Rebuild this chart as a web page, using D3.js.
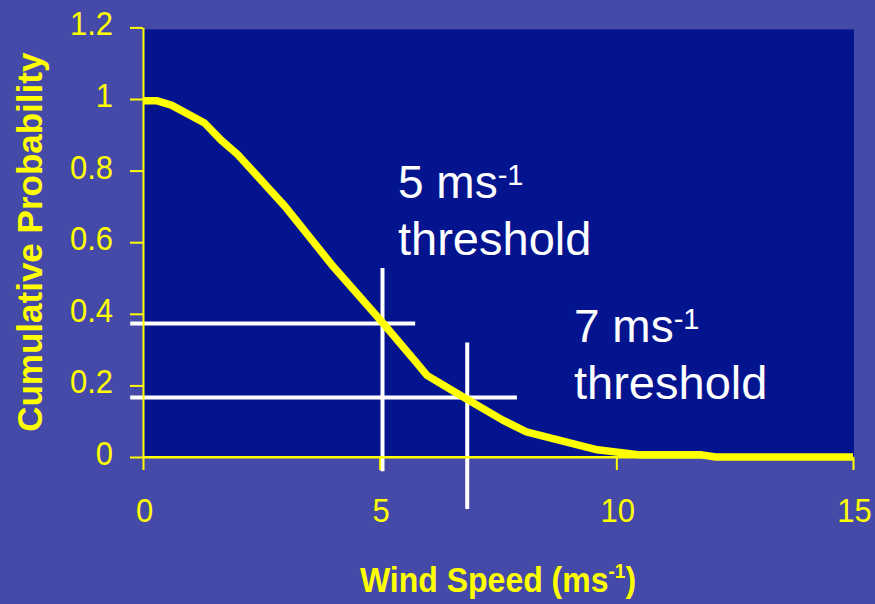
<!DOCTYPE html>
<html><head><meta charset="utf-8">
<script src="https://cdn.jsdelivr.net/npm/d3@7"></script>
<style>html,body{margin:0;padding:0;background:#4549A8;}svg{display:block;}</style>
</head><body>
<svg id="c" width="875" height="604"></svg>
<script>
// ---- data ----
const windSpeed = [0, 0.3, 0.6, 1.3, 1.65, 2.0, 3.0, 4.0, 5.05, 5.75, 6.0, 6.8, 7.6, 8.1, 9.6, 10.5, 11.8, 12.1, 15];
const cumProb   = [0.995, 0.995, 0.983, 0.933, 0.885, 0.845, 0.70, 0.535, 0.377, 0.268, 0.228, 0.165, 0.103, 0.07, 0.02, 0.006, 0.006, 0.0, 0.0];
const xTicks = [0, 5, 10, 15];
const yTicks = [0, 0.2, 0.4, 0.6, 0.8, 1, 1.2];
const yTickLabels = ["0", "0.2", "0.4", "0.6", "0.8", "1", "1.2"];
// threshold crosshairs: crossing point and line extents (data units)
const threshSpeed = [5.06, 6.85];
const threshProb = [0.373, 0.166];
const hLineFrom = [-0.27, -0.27];
const hLineTo = [5.75, 7.9];
const vLineFrom = [-0.04, -0.145];
const vLineTo = [0.528, 0.32];
const threshLabels = ["5", "7"];

const W = 875, H = 604;
const svg = d3.select("#c");
svg.append("rect").attr("width", W).attr("height", H).attr("fill", "#4549A8");

const x = d3.scaleLinear().domain([0, 15]).range([143, 853]);
const y = d3.scaleLinear().domain([0, 1.2]).range([457, 27.4]);
const YEL = "#FFFF00";
const FONT = "'Liberation Sans', Arial, sans-serif";

// plot area
svg.append("rect").attr("x", x(0)).attr("y", y(1.2) + 2)
  .attr("width", x(15) - x(0) + 1).attr("height", y(0) - y(1.2) - 2)
  .attr("fill", "#04148F");

// crosshairs (white)
const g = svg.append("g");
threshSpeed.forEach((s, i) => {
  g.append("line").attr("x1", x(hLineFrom[i])).attr("x2", x(hLineTo[i]))
    .attr("y1", y(threshProb[i])).attr("y2", y(threshProb[i]))
    .attr("stroke", "#fff").attr("stroke-width", 4);
  g.append("line").attr("x1", x(s)).attr("x2", x(s))
    .attr("y1", y(vLineFrom[i])).attr("y2", y(vLineTo[i]))
    .attr("stroke", "#fff").attr("stroke-width", 4);
});

// axes
const yAxis = d3.axisLeft(y).tickValues(yTicks).tickFormat((d, i) => yTickLabels[i])
  .tickSize(13).tickSizeOuter(0).tickPadding(17);
const ya = svg.append("g").attr("transform", `translate(${x(0)},0)`).call(yAxis);
const xAxis = d3.axisBottom(x).tickValues(xTicks).tickFormat(d3.format("d"))
  .tickSize(13).tickSizeOuter(0).tickPadding(17);
const xa = svg.append("g").attr("transform", `translate(0,${y(0)})`).call(xAxis);
[ya, xa].forEach(a => {
  a.select(".domain").attr("stroke", YEL).attr("stroke-width", 2);
  a.selectAll(".tick line").attr("stroke", YEL).attr("stroke-width", 2);
  a.selectAll(".tick text").attr("fill", YEL).attr("font-family", FONT).attr("font-size", 31);
});
ya.selectAll(".tick text").attr("dy", null).attr("y", null)
  .attr("transform", "translate(0,7.5) scale(1,1.1)");
xa.selectAll(".tick text").attr("dy", null).attr("y", null)
  .attr("transform", "translate(1,64.5) scale(1,1.1)");

// curve
const pts = windSpeed.map((w, i) => [w, cumProb[i]]);
svg.append("path").datum(pts)
  .attr("d", d3.line().x(d => x(d[0])).y(d => y(d[1])).curve(d3.curveLinear))
  .attr("fill", "none").attr("stroke", YEL).attr("stroke-width", 7.5)
  .attr("stroke-linejoin", "round").attr("stroke-linecap", "butt");
// keep axis bottom visible over the curve tail
svg.append("line").attr("x1", x(0)).attr("x2", x(15)).attr("y1", y(0)).attr("y2", y(0))
  .attr("stroke", YEL).attr("stroke-width", 2);

// axis titles
const xt = svg.append("text")
  .attr("transform", `translate(${(x(0) + x(15)) / 2},592) scale(1,1.1)`)
  .attr("text-anchor", "middle").attr("fill", YEL).attr("font-family", FONT)
  .attr("font-weight", "bold").attr("font-size", 32);
xt.append("tspan").text("Wind Speed (ms");
xt.append("tspan").attr("font-size", 19).attr("dy", -13).text("-1");
xt.append("tspan").attr("dy", 13).text(")");

svg.append("text")
  .attr("transform", `translate(42,${(y(0) + y(1.2)) / 2}) rotate(-90)`)
  .attr("text-anchor", "middle").attr("fill", YEL).attr("font-family", FONT)
  .attr("font-weight", "bold").attr("font-size", 35)
  .text("Cumulative Probability");

// annotations
const annX = [398, 574], annY = [198, 342];
threshLabels.forEach((lab, i) => {
  const t = svg.append("text").attr("x", annX[i]).attr("y", annY[i])
    .attr("fill", "#fff").attr("font-family", FONT).attr("font-size", 46);
  t.append("tspan").text(lab + " ms");
  t.append("tspan").attr("font-size", 29).attr("dy", -13).text("-1");
  svg.append("text").attr("x", annX[i]).attr("y", annY[i] + 57)
    .attr("fill", "#fff").attr("font-family", FONT).attr("font-size", 47)
    .text("threshold");
});
</script>
</body></html>
